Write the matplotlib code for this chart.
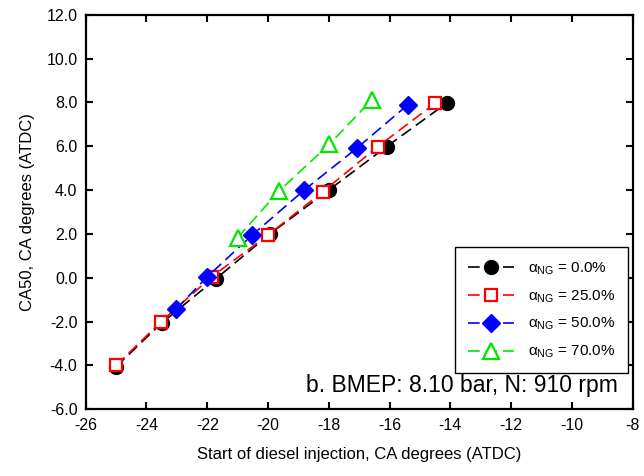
import matplotlib
matplotlib.use('Agg')
import matplotlib.pyplot as plt

plt.rcParams['font.family'] = ['Liberation Sans', 'DejaVu Sans']
plt.rcParams['mathtext.fontset'] = 'custom'
plt.rcParams['mathtext.rm'] = 'Liberation Sans'
plt.rcParams['mathtext.it'] = 'Liberation Sans:italic'
plt.rcParams['axes.unicode_minus'] = False

# start of injection (CA deg ATDC) and CA50 for each NG fraction
soi_0 = [-25.0, -23.5, -21.72, -19.94, -18.0, -16.1, -14.1]
ca50_0 = [-4.05, -2.06, -0.05, 2.0, 4.0, 5.98, 7.99]

soi_25 = [-25.0, -23.52, -21.85, -20.0, -18.19, -16.39, -14.5]
ca50_25 = [-4.0, -2.0, 0.05, 1.95, 3.93, 5.98, 7.96]

soi_50 = [-23.03, -22.02, -20.52, -18.81, -17.08, -15.41]
ca50_50 = [-1.44, 0.02, 1.95, 4.0, 5.91, 7.88]

soi_70 = [-21.0, -19.63, -17.98, -16.59]
ca50_70 = [1.83, 3.97, 6.09, 8.11]

labels = [r'$\mathregular{\alpha_{NG}}$ = 0.0%',
          r'$\mathregular{\alpha_{NG}}$ = 25.0%',
          r'$\mathregular{\alpha_{NG}}$ = 50.0%',
          r'$\mathregular{\alpha_{NG}}$ = 70.0%']

fig = plt.figure(figsize=(6.44, 4.76), dpi=100)
ax = fig.add_subplot(111)
fig.subplots_adjust(left=0.1331, right=0.9824, top=0.9691, bottom=0.1401)

dash = (0, (7, 3.5))
ax.plot(soi_0, ca50_0, color='black', linestyle=dash, lw=1.2,
        marker='o', ms=10, mfc='black', mec='black', label=labels[0])
ax.plot(soi_25, ca50_25, color='#ff0000', linestyle=dash, lw=1.2,
        marker='s', ms=9, mfc='white', mec='#ff0000', mew=1.6, label=labels[1])
ax.plot(soi_50, ca50_50, color='#0000ff', linestyle=dash, lw=1.2,
        marker='D', ms=9.5, mfc='#0000ff', mec='#0000ff', label=labels[2])
ax.plot(soi_70, ca50_70, color='#00e600', linestyle=dash, lw=1.2,
        marker='^', ms=11, mfc='white', mec='#00e600', mew=1.6, label=labels[3])

ax.set_xlim(-26, -8)
ax.set_ylim(-6, 12)
ax.set_xticks(range(-26, -7, 2))
ax.set_yticks(range(-6, 13, 2))
ax.set_yticklabels(['%.1f' % v for v in range(-6, 13, 2)])
ax.tick_params(direction='in', length=5, width=1.5, labelsize=11.5,
               top=True, right=True, pad=6)
for s in ax.spines.values():
    s.set_linewidth(1.6)

ax.set_xlabel('Start of diesel injection, CA degrees (ATDC)', fontsize=12, labelpad=10)
ax.set_ylabel('CA50, CA degrees (ATDC)', fontsize=12, labelpad=8)

leg = ax.legend(loc='upper right', bbox_to_anchor=(0.992, 0.4105), borderaxespad=0,
                fontsize=11, handlelength=3.0, labelspacing=0.75, fancybox=False,
                framealpha=1, edgecolor='black', borderpad=0.85, handletextpad=0.9)
leg.get_frame().set_linewidth(1.0)

ax.text(0.973, 0.0616, 'b. BMEP: 8.10 bar, N: 910 rpm', transform=ax.transAxes,
        ha='right', va='center', fontsize=16.5)

fig.savefig('out.png', dpi=100)
